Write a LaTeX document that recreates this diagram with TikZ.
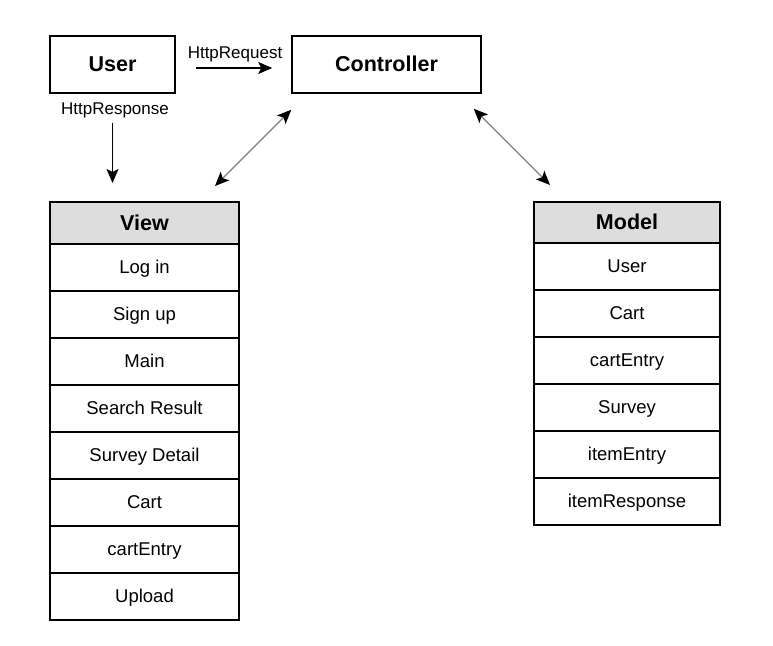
\documentclass[tikz,border=0pt]{standalone}
\usepackage{fontspec}
\setmainfont{Liberation Sans}
\usepackage{xcolor}
\usepackage{tikz}
\usetikzlibrary{arrows.meta, positioning}
\definecolor{headgray}{HTML}{DDDDDD}
\definecolor{linkgray}{HTML}{808080}
\tikzset{
    myarrow/.style={-{Stealth[length=14pt,width=12pt,inset=3pt]}, line width=1.5pt},
    linkarrow/.style={{Stealth[length=14pt,width=12pt,inset=3pt,black]}-{Stealth[length=14pt,width=12pt,inset=3pt,black]}, draw=linkgray, line width=1.4pt},
    box/.style={draw, rectangle, line width=1.5pt, inner sep=0pt, text height=19.5pt, text depth=4.6pt, font=\fontsize{21.5}{26}\selectfont\bfseries},
    head/.style={draw, rectangle, line width=1.5pt, fill=headgray, outer sep=0pt, inner sep=0pt, text height=19.5pt, text depth=4.6pt, font=\fontsize{21.5}{26}\selectfont\bfseries},
    row/.style={draw, rectangle, line width=1.5pt, outer sep=0pt, inner sep=0pt, minimum height=47pt, text height=16.7pt, text depth=3.9pt, font=\fontsize{18.5}{22}\selectfont},
    vrow/.style={row, minimum width=189pt},
    mrow/.style={row, minimum width=186pt},
    lbl/.style={inner sep=0pt, font=\fontsize{17}{20}\selectfont}
}

\begin{document}
\begin{tikzpicture}[x=1pt, y=1pt]
    \useasboundingbox (0,0) rectangle (773,-645);

    \node (user) [box, minimum width=125pt, minimum height=57pt] at (112.5,-64.5) {User};
    \node (ctrl) [box, minimum width=189pt, minimum height=57pt] at (386.5,-64.5) {Controller};

    % view table
    \node (vhead) [head, minimum width=189pt, minimum height=42pt] at (144.5,-223) {View};
    \node (login) [vrow, below=0pt of vhead] {Log in};
    \node (signup) [vrow, below=0pt of login] {Sign up};
    \node (main) [vrow, below=0pt of signup] {Main};
    \node (search) [vrow, below=0pt of main] {Search Result};
    \node (detail) [vrow, below=0pt of search] {Survey Detail};
    \node (vcart) [vrow, below=0pt of detail] {Cart};
    \node (ventry) [vrow, below=0pt of vcart] {cartEntry};
    \node (upload) [vrow, below=0pt of ventry] {Upload};

    % model table
    \node (mhead) [head, minimum width=186pt, minimum height=41pt] at (627,-222.5) {Model};
    \node (muser) [mrow, below=0pt of mhead] {User};
    \node (mcart) [mrow, below=0pt of muser] {Cart};
    \node (mentry) [mrow, below=0pt of mcart] {cartEntry};
    \node (msurvey) [mrow, below=0pt of mentry] {Survey};
    \node (mitem) [mrow, below=0pt of msurvey] {itemEntry};
    \node (mresp) [mrow, below=0pt of mitem] {itemResponse};

    \node (req) [lbl] at (235,-54) {HttpRequest};
    \node (resp) [lbl] at (115,-110) {HttpResponse};

    \draw [myarrow, shorten <=20pt, shorten >=19pt] ([yshift=-3.5pt]user.east) -- ([yshift=-3.5pt]ctrl.west);
    \draw [myarrow, shorten <=29pt, shorten >=19pt] (user.south) -- (user.south |- vhead.north);
    \draw [linkarrow] ([shift={(-24,16)}]vhead.north east) -- ([shift={(0,-16)}]ctrl.south west);
    \draw [linkarrow] ([shift={(-8,-15)}]ctrl.south east) -- ([shift={(16,17)}]mhead.north west);
\end{tikzpicture}
\end{document}
